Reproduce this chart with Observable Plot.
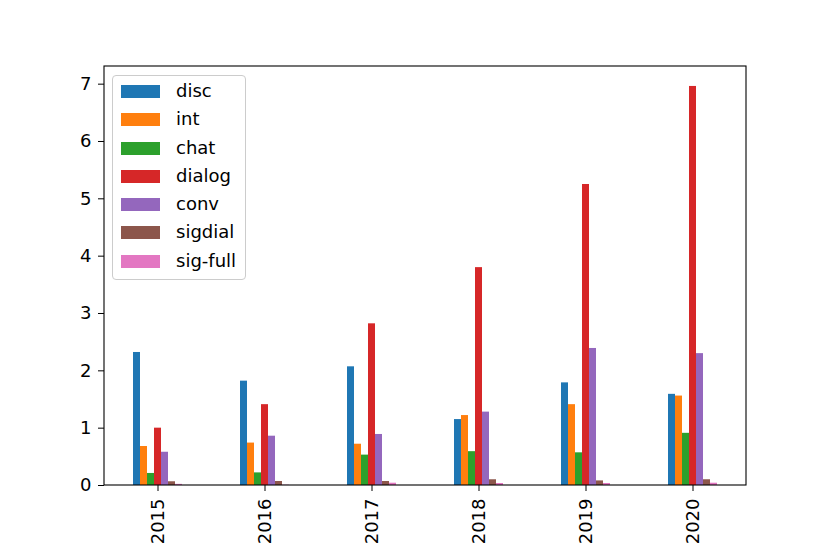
<!DOCTYPE html>
<html>
<head>
<meta charset="utf-8">
<script src="https://cdn.jsdelivr.net/npm/d3@7"></script>
<script src="https://cdn.jsdelivr.net/npm/@observablehq/plot@0.6"></script>
<style>
  html, body { margin: 0; padding: 0; background: white; }
  #wrap { position: relative; width: 830px; height: 554px; font-family: "DejaVu Sans", sans-serif; }
  #legend { position: absolute; left: 112px; top: 75px; width: 132px; height: 203px;
    border: 1px solid #cccccc; border-radius: 4px; background: rgba(255,255,255,0.8); box-sizing: content-box; }
  .row { position: absolute; left: 8px; height: 13px; display: flex; align-items: center; }
  .sw { width: 39px; height: 13px; }
  .lab { margin-left: 16px; font-size: 18px; line-height: 13px; color: black; white-space: nowrap; position: relative; top: -1px; }
</style>
</head>
<body>
<div id="wrap"></div>
<script>
const years = ["2015", "2016", "2017", "2018", "2019", "2020"];
const series = ["disc", "int", "chat", "dialog", "conv", "sigdial", "sig-full"];
const colors = ["#1f77b4", "#ff7f0e", "#2ca02c", "#d62728", "#9467bd", "#8c564b", "#e377c2"];

const disc    = [2.32, 1.82, 2.07, 1.15, 1.79, 1.59];
const int     = [0.68, 0.74, 0.72, 1.22, 1.41, 1.56];
const chat    = [0.21, 0.22, 0.53, 0.59, 0.57, 0.91];
const dialog  = [1.00, 1.41, 2.82, 3.80, 5.25, 6.96];
const conv    = [0.58, 0.86, 0.89, 1.28, 2.39, 2.30];
const sigdial = [0.065, 0.07, 0.07, 0.10, 0.08, 0.10];
const sigfull = [0.02, 0.005, 0.04, 0.035, 0.035, 0.04];

const valuesBySeries = [disc, int, chat, dialog, conv, sigdial, sigfull];
const data = [];
years.forEach((y, i) => series.forEach((s, j) => data.push({year: y, series: s, value: valuesBySeries[j][i]})));

const yMax = d3.max(dialog) * 1.05;

const plot = Plot.plot({
  width: 830,
  height: 554,
  marginLeft: 104,
  marginRight: 84,
  marginTop: 66,
  marginBottom: 69,
  style: {fontFamily: "DejaVu Sans", fontSize: "18px", color: "black", background: "white", overflow: "visible"},
  fx: {domain: years, paddingInner: 0, paddingOuter: 0, label: null},
  x: {domain: series, paddingInner: 0, paddingOuter: 3.5, axis: null},
  y: {domain: [0, yMax], label: null},
  color: {domain: series, range: colors},
  marks: [
    Plot.barY(data, {fx: "year", x: "series", y: "value", fill: "series"}),
    Plot.axisY({ticks: d3.range(0, 8), tickSize: 6, tickPadding: 7, label: null, fontSize: 18, stroke: "black", strokeWidth: 1, strokeOpacity: 1}),
    Plot.axisFx({anchor: "bottom", tickSize: 6, tickPadding: 7, tickRotate: -90, label: null, fontSize: 18})
  ]
});

const wrap = document.getElementById("wrap");
wrap.appendChild(plot);

// axes frame (spines) from the scales' ranges
const yr = plot.scale("y").range;
const fxr = plot.scale("fx").range;
const fxStep = plot.scale("fx").step || plot.scale("fx").bandwidth;
const left = Math.min(fxr[0], fxr[1]);
const right = Math.max(fxr[0], fxr[1]);
d3.select(plot).append("rect")
  .attr("x", left).attr("y", Math.min(yr[0], yr[1]))
  .attr("width", right - left).attr("height", Math.abs(yr[0] - yr[1]))
  .attr("fill", "none").attr("stroke", "black").attr("stroke-width", 1.1);

// legend
const legend = document.createElement("div");
legend.id = "legend";
series.forEach((s, i) => {
  const row = document.createElement("div");
  row.className = "row";
  row.style.top = (9 + i * 28.25) + "px";
  row.innerHTML = `<div class="sw" style="background:${colors[i]}"></div><div class="lab">${s}</div>`;
  legend.appendChild(row);
});
wrap.appendChild(legend);
</script>
</body>
</html>
